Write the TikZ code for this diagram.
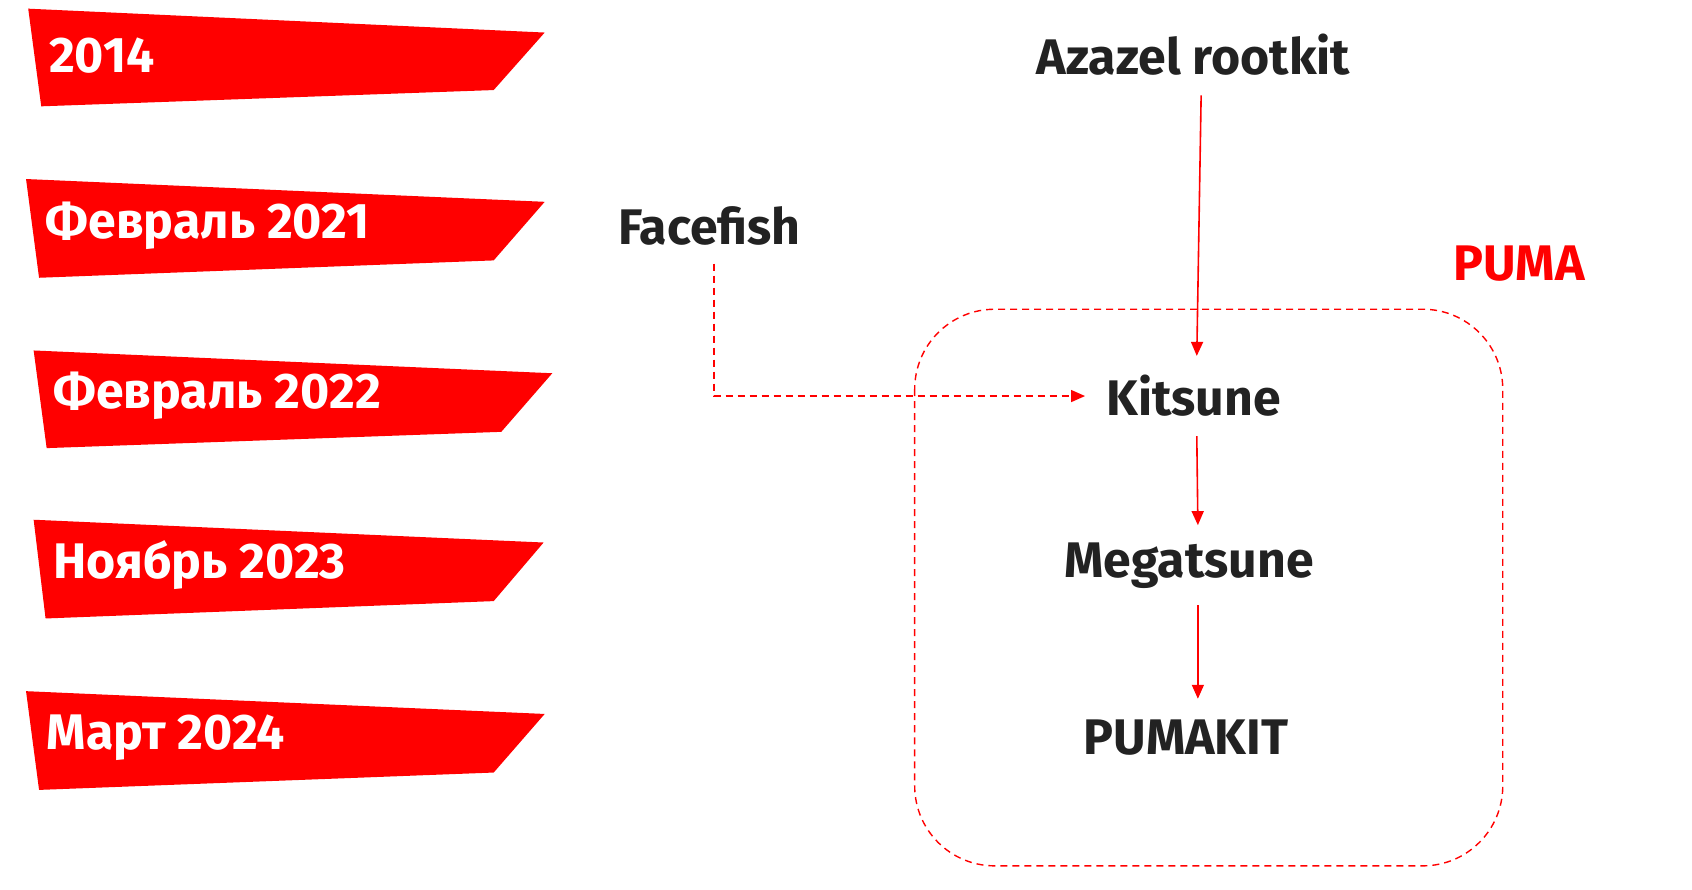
\documentclass[tikz,border=0pt]{standalone}
\usepackage{fontspec}
\setmainfont{Fira Sans}
\usetikzlibrary{arrows.meta}
\definecolor{pred}{RGB}{255,0,0}
\definecolor{ink}{RGB}{34,34,34}
\begin{document}
\begin{tikzpicture}[x=1.085pt,y=-1.085pt,
  banner/.style={fill=pred,draw=none},
  btext/.style={anchor=west,text=white,font=\fontsize{50}{50}\selectfont\bfseries,inner sep=0},
  lbl/.style={text=ink,font=\fontsize{50}{50}\selectfont\bfseries,inner sep=0},
  arr/.style={draw=pred,line width=1.6pt,-{Triangle[length=14pt,width=12pt]}},
  darr/.style={draw=pred,line width=1.4pt,dash pattern=on 7pt off 5pt,-{Triangle[length=14pt,width=12pt]}}]
\useasboundingbox (0,0) rectangle (1559.4,819.4);
\fill[banner] (26,8) -- (502,30) -- (455,83) -- (38,98) -- cycle;
\node[btext] (b1) at (45,51) {2014};
\fill[banner] (24,165) -- (502,186) -- (455,240) -- (36,256) -- cycle;
\node[btext] (b2) at (42,208) {Февраль 2021};
\fill[banner] (31,323) -- (509,344) -- (462,398) -- (43,413) -- cycle;
\node[btext] (b3) at (49,365) {Февраль 2022};
\fill[banner] (31,479) -- (501,500) -- (455,554) -- (42,570) -- cycle;
\node[btext] (b4) at (49,521) {Ноябрь 2023};
\fill[banner] (24,637) -- (502,658) -- (455,712) -- (36,728) -- cycle;
\node[btext] (b5) at (43,680) {Март 2024};

\draw[pred,line width=1.4pt,dash pattern=on 7pt off 5pt,rounded corners=80pt] (843,285) rectangle (1385,798);
\node[lbl,text=pred] (puma) at (1400,243) {PUMA};

\node[lbl] (az) at (1100,50) {Azazel rootkit};
\node[lbl] (ff) at (654,208) {Facefish};
\node[lbl] (ki) at (1100,365) {Kitsune};
\node[lbl] (me) at (1096,521) {Megatsune};
\node[lbl] (pk) at (1093,680) {PUMAKIT};

\coordinate (ffs) at (658,243);
\coordinate (ffc) at (658,365);
\coordinate (kiw) at (1000,365);
\coordinate (a1) at (1107,88); \coordinate (a2) at (1103,328);
\coordinate (k1) at (1103,402); \coordinate (k2) at (1104,484);
\coordinate (m1) at (1104,558); \coordinate (m2) at (1104,644);
\draw[arr] (a1) -- (a2);
\draw[arr] (k1) -- (k2);
\draw[arr] (m1) -- (m2);
\draw[darr] (ffs) -- (ffc) -- (kiw);
\end{tikzpicture}
\end{document}
